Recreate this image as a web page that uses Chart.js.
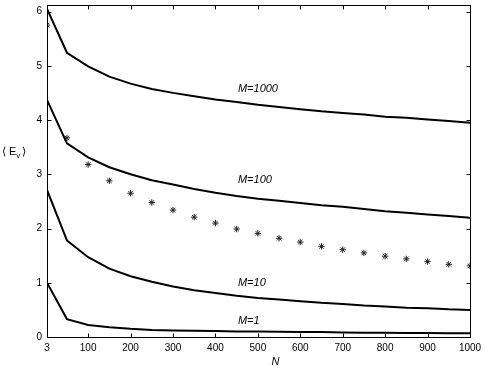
<!DOCTYPE html>
<html>
<head>
<meta charset="utf-8">
<script src="https://cdn.jsdelivr.net/npm/chart.js@4"></script>
<style>
  html, body { margin: 0; padding: 0; background: #fff; }
  #energyChart { display: block; }
</style>
</head>
<body>
<canvas id="energyChart" width="485" height="371"></canvas>
<script>
// N values (x axis)
const nValues = [3, 50, 100, 150, 200, 250, 300, 350, 400, 450, 500, 550, 600, 650, 700, 750, 800, 850, 900, 950, 1000];

// curves, one per M
const m1000 = [6.05, 5.24, 4.99, 4.80, 4.67, 4.57, 4.50, 4.44, 4.38, 4.33, 4.28, 4.24, 4.20, 4.16, 4.13, 4.10, 4.06, 4.04, 4.01, 3.98, 3.95];
const m100 = [4.37, 3.57, 3.31, 3.13, 3.00, 2.89, 2.81, 2.73, 2.66, 2.60, 2.55, 2.51, 2.47, 2.43, 2.40, 2.36, 2.32, 2.29, 2.26, 2.23, 2.20];
const m10 = [2.71, 1.78, 1.47, 1.26, 1.12, 1.02, 0.93, 0.86, 0.81, 0.76, 0.72, 0.69, 0.66, 0.63, 0.61, 0.58, 0.56, 0.54, 0.53, 0.51, 0.50];
const m1 = [1.00, 0.33, 0.22, 0.18, 0.15, 0.13, 0.12, 0.115, 0.11, 0.10, 0.10, 0.095, 0.09, 0.09, 0.085, 0.08, 0.08, 0.075, 0.075, 0.07, 0.07];

// asterisk markers
const starValues = [5.75, 3.67, 3.18, 2.88, 2.65, 2.48, 2.34, 2.21, 2.10, 1.99, 1.91, 1.82, 1.75, 1.67, 1.61, 1.55, 1.49, 1.44, 1.39, 1.34, 1.31];

// tick labels
const xTicks = [3, 100, 200, 300, 400, 500, 600, 700, 800, 900, 1000];
const yTicks = [0, 1, 2, 3, 4, 5, 6];

// curve labels (text, N, value)
const curveLabels = [
    ['M=1000', 453, 4.58],
    ['M=100', 453, 2.89],
    ['M=10', 453, 0.99],
    ['M=1', 453, 0.29]
];

const FONT = '"Liberation Sans", Arial, Helvetica, sans-serif';

function toPoints(ys) {
    return nValues.map((n, i) => ({ x: n, y: ys[i] }));
}

function lineSet(ys) {
    return {
        data: toPoints(ys),
        borderColor: '#000',
        borderWidth: 2,
        pointRadius: 0,
        tension: 0,
        fill: false
    };
}

// frame, inward ticks, curve labels and axis labels
const framePlugin = {
    id: 'frame',
    afterDatasetsDraw(chart) {
        const c = chart.ctx;
        const a = chart.chartArea;
        const xs = chart.scales.x;
        const ys = chart.scales.y;
        c.save();
        c.strokeStyle = '#000';
        c.lineWidth = 1;
        const l = Math.round(a.left) + 0.5, r = Math.round(a.right) + 0.5;
        const t = Math.round(a.top) + 0.5, b = Math.round(a.bottom) + 0.5;
        c.strokeRect(l, t, r - l, b - t);
        c.beginPath();
        xTicks.forEach(v => {
            const px = Math.round(xs.getPixelForValue(v)) + 0.5;
            c.moveTo(px, b); c.lineTo(px, b - 4);
            c.moveTo(px, t); c.lineTo(px, t + 4);
        });
        yTicks.forEach(v => {
            const py = Math.round(ys.getPixelForValue(v)) + 0.5;
            c.moveTo(l, py); c.lineTo(l + 4, py);
            c.moveTo(r, py); c.lineTo(r - 4, py);
        });
        c.stroke();

        c.fillStyle = '#000';
        c.font = 'italic 11px ' + FONT;
        c.textBaseline = 'middle';
        c.textAlign = 'left';
        curveLabels.forEach(([txt, n, v]) => {
            c.fillText(txt, xs.getPixelForValue(n), ys.getPixelForValue(v));
        });

        // x axis label
        c.textAlign = 'center';
        c.fillText('N', a.left + (a.right - a.left) * 0.54, a.bottom + 25);
        c.textAlign = 'left';

        // y axis label <E_v>
        const yMid = ys.getPixelForValue(3.41);
        c.font = '11px ' + FONT;
        let x = 2;
        c.fillText('\u27E8', x, yMid); x += c.measureText('\u27E8').width + 3;
        c.fillText('E', x, yMid); x += c.measureText('E').width;
        c.font = '8px ' + FONT;
        c.fillText('v', x, yMid + 4); x += c.measureText('v').width + 2;
        c.font = '11px ' + FONT;
        c.fillText('\u27E9', x, yMid);
        c.restore();
    }
};

const ctx = document.getElementById('energyChart');
new Chart(ctx, {
    type: 'line',
    data: {
        datasets: [
            lineSet(m1000),
            lineSet(m100),
            lineSet(m10),
            lineSet(m1),
            {
                data: toPoints(starValues),
                showLine: false,
                pointStyle: 'star',
                pointRadius: 3.2,
                borderColor: '#222',
                backgroundColor: '#222',
                pointBorderWidth: 1
            }
        ]
    },
    options: {
        responsive: false,
        animation: false,
        devicePixelRatio: 1,
        layout: { padding: { top: 4, right: 15, left: 0, bottom: 0 } },
        plugins: {
            legend: { display: false },
            tooltip: { enabled: false }
        },
        scales: {
            x: {
                type: 'linear',
                min: 3,
                max: 1000,
                afterBuildTicks: s => { s.ticks = xTicks.map(v => ({ value: v })); },
                afterFit: s => {
                    s.height = 34;
                    s.paddingLeft = 0;
                    s.paddingRight = 0;
                },
                grid: { display: false, drawTicks: false },
                border: { display: false },
                ticks: {
                    autoSkip: false,
                    maxRotation: 0,
                    padding: 5,
                    color: '#000',
                    font: { family: FONT, size: 10 },
                    callback: v => String(v)
                }
            },
            y: {
                min: 0,
                max: 6.12,
                afterBuildTicks: s => { s.ticks = yTicks.map(v => ({ value: v })); },
                afterFit: s => {
                    s.width = 47;
                    s.paddingTop = 0;
                    s.paddingBottom = 0;
                },
                grid: { display: false, drawTicks: false },
                border: { display: false },
                ticks: {
                    padding: 5,
                    color: '#000',
                    font: { family: FONT, size: 10 },
                    callback: v => String(v)
                }
            }
        }
    },
    plugins: [framePlugin]
});
</script>
</body>
</html>
